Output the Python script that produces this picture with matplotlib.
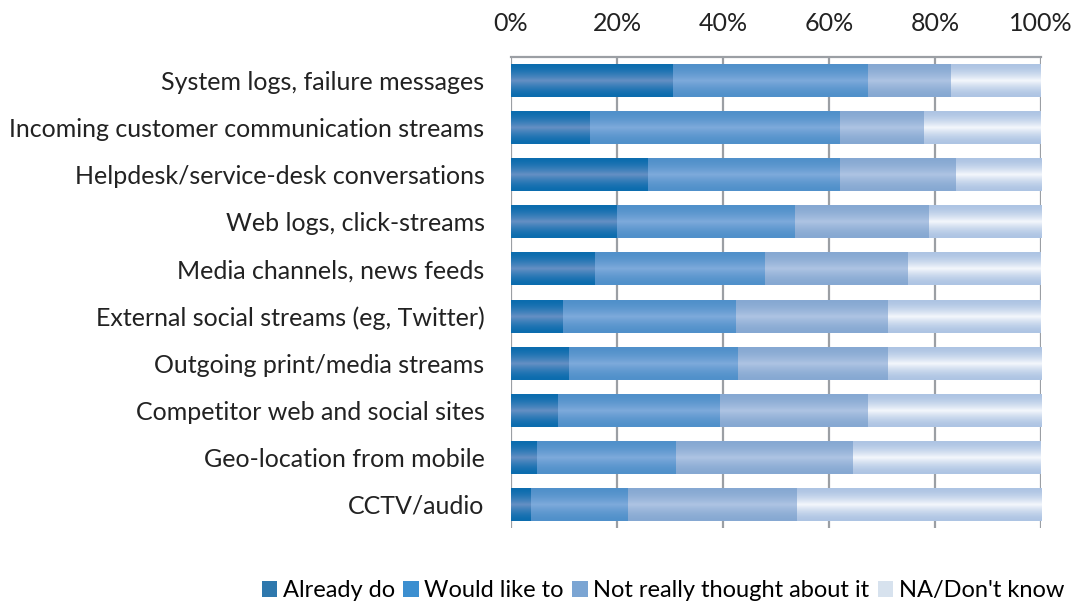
import numpy as np
import matplotlib
matplotlib.use("Agg")
import matplotlib.pyplot as plt
from matplotlib.colors import to_rgb
from matplotlib.patches import Patch

plt.rcParams["font.family"] = ["Lato", "DejaVu Sans"]

categories = [
    "System logs, failure messages",
    "Incoming customer communication streams",
    "Helpdesk/service-desk conversations",
    "Web logs, click-streams",
    "Media channels, news feeds",
    "External social streams (eg, Twitter)",
    "Outgoing print/media streams",
    "Competitor web and social sites",
    "Geo-location from mobile",
    "CCTV/audio",
]
series_names = ["Already do", "Would like to", "Not really thought about it", "NA/Don't know"]
already_do = [30.6, 15.0, 25.9, 20.1, 15.9, 9.8, 11.0, 8.8, 5.0, 3.8]
would_like = [36.7, 47.0, 36.1, 33.4, 32.1, 32.7, 31.9, 30.7, 26.2, 18.2]
not_thought = [15.8, 16.0, 21.9, 25.3, 27.0, 28.7, 28.2, 27.8, 33.4, 31.9]
na_dont_know = [16.9, 22.0, 16.1, 21.2, 25.0, 28.8, 28.9, 32.7, 35.4, 46.1]
x_ticks = [0, 20, 40, 60, 80, 100]

# (edge colour, centre highlight) for the shaded bars, flat colour for the legend
bar_shades = [("#0b6cae", "#6690c4"), ("#5090ca", "#7eaadb"),
              ("#86a8d2", "#aec4e3"), ("#adc4e3", "#f4f7fc")]
legend_colors = ["#2e78ad", "#3c8fd0", "#7ba5d3", "#d7e2ee"]


def gradient(edge, centre, n=64):
    s = np.linspace(0, 1, n)
    t = (1 - np.abs(2 * s - 1)) ** 1.6
    e, c = np.array(to_rgb(edge)), np.array(to_rgb(centre))
    return (e[None, :] * (1 - t[:, None]) + c[None, :] * t[:, None])[:, None, :]


fig = plt.figure(figsize=(10.8, 6.03), dpi=100)
ax = fig.add_axes([0.4731, 0.1244, 0.4908, 0.7811])

y = np.arange(len(categories))
left = np.zeros(len(categories))
for values, (edge, centre) in zip([already_do, would_like, not_thought, na_dont_know], bar_shades):
    bars = ax.barh(y, values, left=left, height=0.7, color=edge, zorder=2)
    grad = gradient(edge, centre)
    for bar in bars:
        x0, y0 = bar.get_x(), bar.get_y()
        im = ax.imshow(grad, extent=[x0, x0 + bar.get_width(), y0, y0 + bar.get_height()],
                       aspect="auto", interpolation="bilinear", zorder=3)
        im.set_clip_path(bar)
    left += np.array(values)

ax.set_xlim(0, 100)
ax.set_ylim(len(categories) - 0.5, -0.5)
ax.set_aspect("auto")
ax.set_xticks(x_ticks)
ax.set_xticklabels([f"{v}%" for v in x_ticks])
ax.xaxis.tick_top()
ax.set_yticks(y)
ax.set_yticklabels(categories)
ax.tick_params(axis="x", length=0, pad=16, labelsize=18, colors="#222222")
ax.tick_params(axis="y", length=0, pad=19, labelsize=18, colors="#222222")
ax.xaxis.grid(True, color="#9b9fa4", linewidth=1.6, zorder=1)
ax.set_axisbelow(True)
for side in ["left", "right", "bottom"]:
    ax.spines[side].set_visible(False)
ax.spines["top"].set_color("#9b9fa4")
ax.spines["top"].set_linewidth(1.6)

handles = [Patch(facecolor=c, edgecolor="none") for c in legend_colors]
fig.legend(handles, series_names, loc="center", bbox_to_anchor=(663 / 1080, 0.02),
           ncol=4, frameon=False, fontsize=17, handlelength=0.65, handleheight=0.65,
           handletextpad=0.25, columnspacing=0.35, borderpad=0)

fig.savefig("out.png", dpi=100)
